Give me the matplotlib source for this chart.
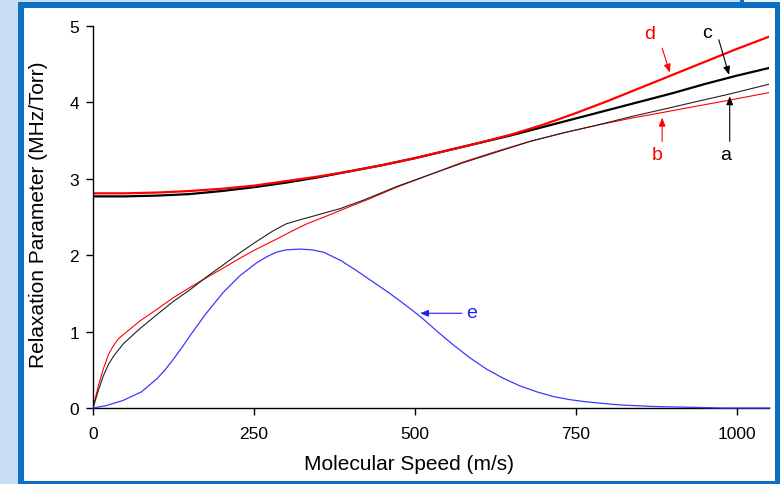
import numpy as np
import matplotlib
matplotlib.use("Agg")
import matplotlib.pyplot as plt
from matplotlib.patches import Rectangle

plt.rcParams['font.family'] = ['Liberation Sans', 'DejaVu Sans']

# curve c (thick black)
c_speed = [0, 50, 100, 150, 200, 250, 300, 350, 400, 450, 500, 550, 600, 650,
           700, 750, 800, 850, 900, 950, 1000, 1050]
c_val = [2.77, 2.77, 2.78, 2.80, 2.84, 2.89, 2.95, 3.02, 3.10, 3.18, 3.27, 3.37,
         3.47, 3.57, 3.68, 3.79, 3.90, 4.01, 4.12, 4.24, 4.35, 4.45]

# curve d (thick red)
d_speed = [0, 50, 100, 150, 200, 250, 300, 350, 400, 450, 500, 550, 600, 650,
           700, 750, 800, 850, 900, 950, 1000, 1050]
d_val = [2.81, 2.81, 2.82, 2.84, 2.87, 2.91, 2.97, 3.03, 3.10, 3.18, 3.27, 3.37,
         3.47, 3.58, 3.71, 3.86, 4.02, 4.19, 4.36, 4.53, 4.70, 4.86]

# curve a (thin black)
a_speed = [0, 8, 16, 24, 32, 47, 73, 99, 124, 151, 177, 200, 228, 254, 280, 300,
           320, 350, 384, 420, 472, 525, 575, 627, 679, 730, 782, 834, 886, 937,
           989, 1051]
a_val = [0, 0.22, 0.42, 0.57, 0.68, 0.84, 1.04, 1.22, 1.39, 1.55, 1.72, 1.86, 2.03,
         2.18, 2.32, 2.41, 2.46, 2.53, 2.61, 2.72, 2.90, 3.06, 3.21, 3.35, 3.49,
         3.60, 3.70, 3.81, 3.91, 4.01, 4.11, 4.24]

# curve b (thin red)
b_speed = [0, 8, 16, 24, 32, 40, 47, 60, 73, 99, 124, 151, 177, 200, 228, 254,
           285, 310, 332, 368, 400, 430, 472, 525, 575, 627, 679, 730, 782, 834,
           886, 937, 989, 1051]
b_val = [0, 0.28, 0.51, 0.70, 0.82, 0.91, 0.96, 1.05, 1.14, 1.29, 1.44, 1.58, 1.71,
         1.82, 1.96, 2.08, 2.21, 2.32, 2.41, 2.53, 2.64, 2.74, 2.89, 3.06, 3.22,
         3.36, 3.49, 3.60, 3.70, 3.79, 3.87, 3.95, 4.03, 4.13]

# curve e (speed distribution, blue)
e_speed = [0, 20, 47, 75, 99, 112, 125, 138, 151, 175, 202, 228, 254, 270, 285,
           300, 321, 340, 358, 385, 409, 435, 461, 485, 508, 535, 559, 585, 611,
           637, 663, 690, 715, 740, 767, 792, 818, 845, 870, 922, 980, 1051]
e_val = [0, 0.03, 0.10, 0.21, 0.38, 0.50, 0.64, 0.79, 0.95, 1.23, 1.51, 1.73, 1.90,
         1.98, 2.04, 2.07, 2.08, 2.07, 2.04, 1.93, 1.80, 1.65, 1.50, 1.35, 1.20,
         1.00, 0.83, 0.66, 0.51, 0.39, 0.29, 0.21, 0.15, 0.11, 0.08, 0.06, 0.04,
         0.03, 0.02, 0.01, 0.0, 0.0]

xticks = [0, 250, 500, 750, 1000]
yticks = [0, 1, 2, 3, 4, 5]

RED = '#ff0000'
BLUE = '#3a3aff'

fig = plt.figure(figsize=(7.8, 4.85), dpi=100)
fig.patch.set_facecolor('#c6ddf2')

W, H = 780.0, 485.0

def frame_rect(x0, y0, x1, y1, color):
    # rectangle given in pixel coords from the top-left corner
    fig.patches.append(Rectangle((x0 / W, 1 - y1 / H), (x1 - x0) / W, (y1 - y0) / H,
                                 transform=fig.transFigure, facecolor=color,
                                 edgecolor='none', zorder=-10))

# blue window frame with white inside
frame_rect(18, 3, 780, 485, '#0a70c4')
frame_rect(24, 9, 775, 482, 'white')
frame_rect(740, 0, 744, 3, '#0a70c4')
frame_rect(744, 0, 780, 3, '#eef3f8')

ax = fig.add_axes([93 / W, 1 - 409 / H, 676 / W, 382 / H])
ax.set_facecolor('none')

ax.plot(c_speed, c_val, color='black', lw=1.6, zorder=2)
ax.plot(d_speed, d_val, color=RED, lw=1.6, zorder=2.1)
ax.plot(b_speed, b_val, color=RED, lw=0.8, zorder=2)
ax.plot(a_speed, a_val, color='#222222', lw=0.8, zorder=2.1)
ax.plot(e_speed, e_val, color=BLUE, lw=0.9, zorder=3, clip_on=False)

ax.set_xlim(0, 1050)
ax.set_ylim(0, 5)
ax.set_xticks(xticks)
ax.set_yticks(yticks)
ax.spines['top'].set_visible(False)
ax.spines['right'].set_visible(False)
ax.spines['left'].set_linewidth(1.0)
ax.spines['bottom'].set_linewidth(1.0)
ax.tick_params(axis='both', direction='out', length=5, width=1, labelsize=12.5,
               colors='black')
ax.tick_params(axis='x', pad=8)
ax.tick_params(axis='y', pad=5)

ax.set_xlabel('Molecular Speed (m/s)', fontsize=15)
ax.set_ylabel('Relaxation Parameter (MHz/Torr)', fontsize=15)
ax.xaxis.set_label_coords(0.467, -0.12)
ax.yaxis.set_label_coords(-0.066, 0.508)

arrow = dict(arrowstyle='-|>,head_length=0.5,head_width=0.2', lw=0.8,
             shrinkA=0, shrinkB=0)

def label(txt, xy_text, xy_tail, xy_head, color):
    ax.text(xy_text[0], xy_text[1], txt, color=color, fontsize=14,
            ha='center', va='center')
    ax.annotate('', xy=xy_head, xytext=xy_tail,
                arrowprops=dict(arrow, color=color))

label('d', (865, 4.90), (884, 4.71), (896, 4.39), RED)
label('c', (953, 4.92), (972, 4.82), (988, 4.36), 'black')
label('b', (876, 3.32), (884, 3.49), (884, 3.80), RED)
label('a', (983, 3.32), (989, 3.49), (989, 4.08), 'black')
label('e', (588, 1.25), (573, 1.24), (508, 1.24), '#2020ee')

fig.savefig('out.png', dpi=100, facecolor=fig.get_facecolor())
